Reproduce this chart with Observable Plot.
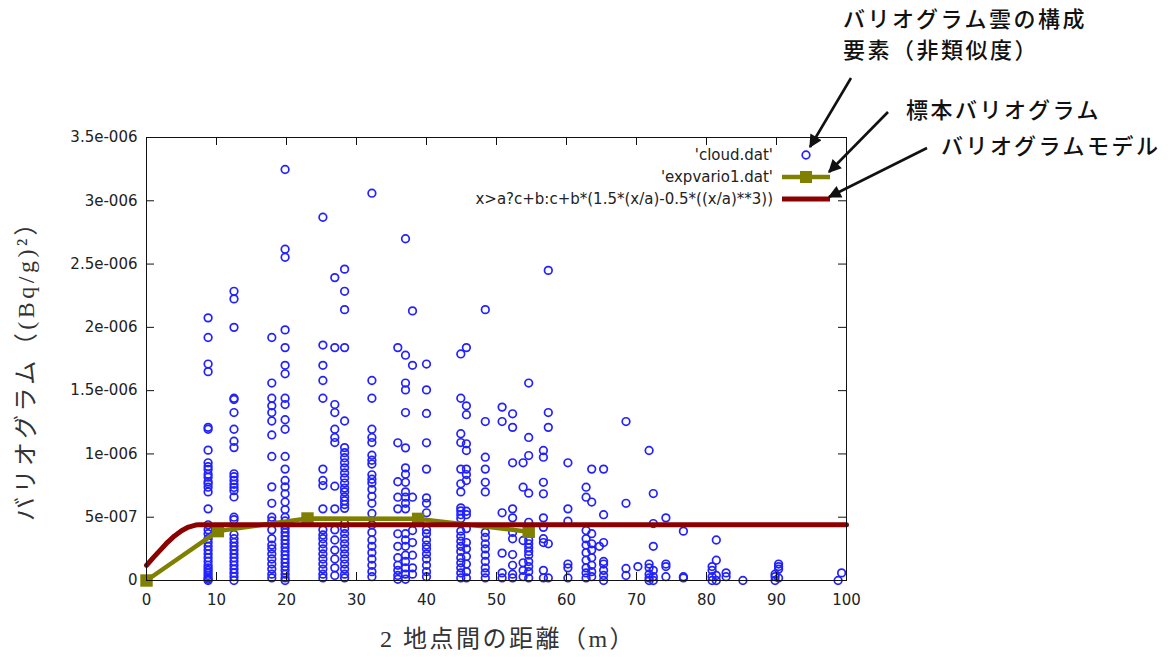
<!DOCTYPE html>
<html><head><meta charset="utf-8">
<script src="https://cdn.jsdelivr.net/npm/d3@7"></script>
<script src="https://cdn.jsdelivr.net/npm/@observablehq/plot@0.6"></script>
<style>
html,body{margin:0;padding:0;background:#fff;}
#chart{width:1170px;height:666px;}
</style></head><body><div id="chart"></div>
<script>
// ---- data (gamma in units of 1e-6 (Bq/g)^2) ----
const xTicks = [0,10,20,30,40,50,60,70,80,90,100];
const yTicks = [0,0.5,1,1.5,2,2.5,3,3.5];
const yTickLabels = ["0","5e-007","1e-006","1.5e-006","2e-006","2.5e-006","3e-006","3.5e-006"];

const cloudDist = [8.8,12.5,17.9,19.8,25.2,26.9,28.3,32.2,35.9,37.0,38.0,40.0,44.9,45.7,48.4,50.8,52.3,53.8,54.6,56.7,57.4,60.2,62.8,63.6,64.7,65.3,68.5,70.2,71.8,72.4,74.2,76.7,80.8,81.4,82.8,85.2,89.8,90.3,98.8,99.3];
const cloudGamma = [
 [2.075,1.92,1.71,1.65,1.21,1.195,1.03,0.93,0.90,0.877,0.84,0.816,0.78,0.765,0.737,0.70,0.566,0.44,0.40,0.37,0.33,0.30,0.27,0.24,0.21,0.18,0.15,0.12,0.10,0.08,0.06,0.04,0.02,0.01,0.0],
 [2.285,2.225,2.0,1.44,1.43,1.327,1.195,1.10,1.05,0.843,0.82,0.79,0.76,0.735,0.71,0.66,0.5,0.48,0.363,0.33,0.30,0.27,0.24,0.21,0.18,0.15,0.12,0.09,0.06,0.03,0.0],
 [1.92,1.56,1.44,1.38,1.327,1.26,1.15,0.98,0.74,0.61,0.50,0.47,0.40,0.33,0.28,0.25,0.21,0.17,0.13,0.09,0.05,0.02],
 [3.247,2.617,2.554,1.98,1.84,1.70,1.633,1.44,1.39,1.27,1.195,0.98,0.88,0.79,0.74,0.685,0.62,0.56,0.50,0.47,0.44,0.41,0.38,0.35,0.32,0.29,0.26,0.23,0.20,0.17,0.14,0.11,0.08,0.05,0.02,0.0],
 [2.87,1.86,1.70,1.58,1.44,0.88,0.79,0.75,0.566,0.40,0.36,0.33,0.29,0.25,0.21,0.17,0.13,0.09,0.05,0.02],
 [2.393,1.84,1.39,1.327,1.195,1.13,1.09,0.745,0.566,0.40,0.32,0.24,0.17,0.10,0.04],
 [2.46,2.285,2.14,1.84,1.26,1.05,1.01,0.97,0.93,0.89,0.85,0.81,0.77,0.73,0.70,0.66,0.63,0.60,0.57,0.45,0.41,0.37,0.33,0.29,0.25,0.21,0.17,0.13,0.09,0.05,0.02],
 [3.06,1.58,1.44,1.195,1.13,1.09,0.99,0.95,0.92,0.835,0.80,0.77,0.72,0.665,0.61,0.53,0.44,0.38,0.32,0.27,0.22,0.17,0.12,0.07,0.03],
 [1.84,1.088,0.78,0.658,0.566,0.369,0.27,0.18,0.12,0.08,0.04,0.01],
 [2.70,1.78,1.56,1.506,1.327,1.048,0.89,0.84,0.776,0.70,0.658,0.61,0.566,0.37,0.32,0.27,0.20,0.15,0.10,0.05,0.01],
 [2.13,1.70,0.658,0.395,0.30,0.20,0.10,0.05],
 [1.71,1.506,1.32,1.088,0.88,0.653,0.61,0.535,0.40,0.37,0.32,0.28,0.25,0.21,0.17,0.12,0.07,0.03],
 [1.79,1.44,1.16,1.09,0.88,0.764,0.70,0.574,0.55,0.52,0.49,0.39,0.35,0.31,0.27,0.23,0.18,0.14,0.10,0.06,0.02],
 [1.84,1.38,1.31,1.08,1.027,0.88,0.837,0.79,0.547,0.52,0.41,0.30,0.25,0.19,0.13,0.07,0.02],
 [2.14,1.256,0.974,0.88,0.776,0.70,0.38,0.34,0.29,0.25,0.20,0.15,0.10,0.06,0.02],
 [1.37,1.256,0.535,0.216,0.06,0.02],
 [1.317,1.21,0.93,0.566,0.495,0.38,0.33,0.205,0.12,0.05,0.02],
 [0.93,0.737,0.316,0.14,0.08,0.03],
 [1.56,1.13,0.987,0.69,0.46,0.32,0.29,0.26,0.23,0.20,0.15,0.11,0.07,0.02],
 [1.027,0.974,0.776,0.685,0.495,0.42,0.33,0.30,0.08,0.02],
 [2.45,1.327,1.21,0.29,0.02],
 [0.93,0.566,0.468,0.13,0.10,0.02],
 [0.737,0.658,0.395,0.33,0.28,0.22,0.16,0.10,0.06,0.02],
 [0.88,0.62,0.37,0.29,0.24,0.18,0.12,0.07,0.03],
 [0.27],
 [0.88,0.52,0.30,0.15,0.13,0.08,0.04,0.0],
 [1.256,0.61,0.095,0.04],
 [0.11],
 [1.027,0.13,0.10,0.05,0.02,0.0],
 [0.687,0.45,0.27,0.08,0.03,0.0],
 [0.495,0.13,0.11,0.03],
 [0.39,0.03,0.02],
 [0.11,0.08,0.03,0.0],
 [0.32,0.16,0.04,0.0],
 [0.06,0.03],
 [0.0],
 [0.05,0.03,0.0],
 [0.13,0.11,0.09,0.02],
 [0.0],
 [0.06]
];
const expDist  = [0, 10.2, 23.0, 38.8, 54.6];
const expGamma = [0, 0.39, 0.49, 0.487, 0.385];
const modelDist  = [0, 1, 2, 3, 4, 5, 6, 7, 7.5, 100];
const modelGamma = [0.12, 0.183, 0.242, 0.302, 0.352, 0.393, 0.422, 0.438, 0.44, 0.44];

const legendLabels = ["'cloud.dat'", "'expvario1.dat'", "x>a?c+b:c+b*(1.5*(x/a)-0.5*((x/a)**3))"];
const xTitle = "2 地点間の距離（m）";
const yTitle = "バリオグラム（(Bq/g)²）";
const notes = ["バリオグラム雲の構成", "要素（非類似度）", "標本バリオグラム", "バリオグラムモデル"];

const cBlue = "#2222ff", cOlive = "#808000", cRed = "#8b0000";

// ---- tables ----
const cloud = cloudDist.flatMap((d, i) => cloudGamma[i].map(g => ({d, g})));
const exp = expDist.map((d, i) => ({d, g: expGamma[i]}));
const model = modelDist.map((d, i) => ({d, g: modelGamma[i]}));

function overlay(index, scales, values, dims) {
  const g = d3.create("svg:g").attr("text-anchor", "start");
  const right = dims.width - dims.marginRight;
  const top = dims.marginTop;
  // legend
  const rows = [top + 18, top + 40, top + 62];
  const lx = right - 73, sx0 = right - 64, sx1 = right - 16, sc = right - 40;
  legendLabels.forEach((t, i) => {
    g.append("text").attr("x", lx).attr("y", rows[i]).attr("text-anchor", "end")
      .attr("dominant-baseline", "middle").attr("font-family", "'DejaVu Sans'")
      .attr("font-size", 15).attr("fill", "#222").text(t);
  });
  g.append("circle").attr("cx", sc).attr("cy", rows[0]).attr("r", 3.8)
    .attr("fill", "none").attr("stroke", cBlue).attr("stroke-width", 1.7);
  g.append("line").attr("x1", sx0).attr("x2", sx1).attr("y1", rows[1]).attr("y2", rows[1])
    .attr("stroke", cOlive).attr("stroke-width", 4.5);
  g.append("rect").attr("x", sc - 6).attr("y", rows[1] - 6).attr("width", 12).attr("height", 12).attr("fill", cOlive);
  g.append("line").attr("x1", sx0).attr("x2", sx1).attr("y1", rows[2]).attr("y2", rows[2])
    .attr("stroke", cRed).attr("stroke-width", 5);
  // axis titles
  g.append("text").attr("transform", `translate(28,${(top + dims.height - dims.marginBottom) / 2 + 6}) rotate(-90)`)
    .attr("text-anchor", "middle").attr("dominant-baseline", "middle")
    .attr("font-family", "'Liberation Serif','Noto Sans CJK JP'").attr("font-size", 24)
    .attr("letter-spacing", 3.5).attr("fill", "#333").text(yTitle);
  g.append("text").attr("x", (dims.marginLeft + right) / 2 + 12).attr("y", dims.height - 25)
    .attr("text-anchor", "middle").attr("dominant-baseline", "middle")
    .attr("font-family", "'Liberation Serif','Noto Sans CJK JP'").attr("font-size", 24)
    .attr("letter-spacing", 2.5).attr("fill", "#333").text(xTitle);
  // annotations
  const notePos = [[843, 21], [843, 52], [906, 112], [941, 148]];
  notes.forEach((t, i) => {
    g.append("text").attr("x", notePos[i][0]).attr("y", notePos[i][1])
      .attr("text-anchor", "start")
      .attr("dominant-baseline", "middle").attr("font-family", "'Noto Sans CJK JP'")
      .attr("font-size", 22).attr("font-weight", 500).attr("letter-spacing", 2.5)
      .attr("fill", "#111").text(t);
  });
  const defs = g.append("defs");
  defs.append("marker").attr("id", "ah").attr("viewBox", "0 0 10 10").attr("refX", 9).attr("refY", 5)
    .attr("markerWidth", 6).attr("markerHeight", 5).attr("markerUnits", "strokeWidth")
    .attr("orient", "auto").append("path").attr("d", "M0,0L10,5L0,10Z").attr("fill", "#111");
  const arrows = [[851, 78, 810, 147], [888, 112, 829, 172], [927, 148, 829, 197]];
  arrows.forEach(a => {
    g.append("line").attr("x1", a[0]).attr("y1", a[1]).attr("x2", a[2]).attr("y2", a[3])
      .attr("stroke", "#111").attr("stroke-width", 2.6).attr("marker-end", "url(#ah)");
  });
  return g.node();
}

const frameH = 666 - 137 - 86, frameW = 1170 - 146 - 324;
const chart = Plot.plot({
  width: 1170, height: 666,
  marginLeft: 146, marginRight: 324, marginTop: 137, marginBottom: 86,
  x: {domain: [0, 100]},
  y: {domain: [0, 3.5]},
  style: {fontFamily: "'DejaVu Sans'", fontSize: "15px", background: "white", color: "#222"},
  marks: [
    Plot.dot(cloud, {x: "d", y: "g", r: 3.8, stroke: cBlue, strokeWidth: 1.7, fill: "none"}),
    Plot.line(exp, {x: "d", y: "g", stroke: cOlive, strokeWidth: 4.5}),
    Plot.dot(exp, {x: "d", y: "g", symbol: "square", r: 7, fill: cOlive, stroke: "none"}),
    Plot.line(model, {x: "d", y: "g", stroke: cRed, strokeWidth: 5}),
    Plot.frame({stroke: "#111"}),
    Plot.tickX(xTicks, {x: d => d, insetTop: frameH - 8, stroke: "#111"}),
    Plot.tickX(xTicks, {x: d => d, insetBottom: frameH - 8, stroke: "#111"}),
    Plot.tickY(yTicks, {y: d => d, insetRight: frameW - 8, stroke: "#111"}),
    Plot.tickY(yTicks, {y: d => d, insetLeft: frameW - 8, stroke: "#111"}),
    Plot.axisX({ticks: xTicks, tickSize: 0, tickPadding: 14, label: null}),
    Plot.axisY({ticks: yTicks, tickSize: 0, tickPadding: 9, label: null,
      tickFormat: d => yTickLabels[yTicks.indexOf(d)]}),
    overlay
  ]
});
document.getElementById("chart").appendChild(chart);
</script></body></html>
